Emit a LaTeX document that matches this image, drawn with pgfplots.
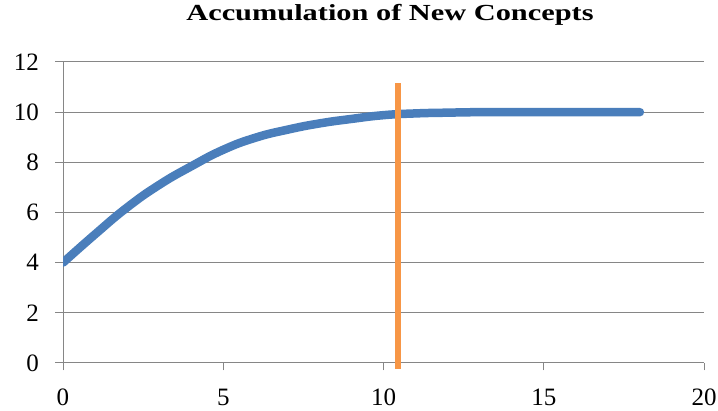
\documentclass[border=0pt]{standalone}
\usepackage{pgfplots}
\pgfplotsset{compat=1.18}
\usepackage{fontspec}
\setmainfont{Liberation Serif}
\newfontfamily\titlefont[FakeStretch=1.32]{Liberation Serif Bold}

\definecolor{gridgray}{RGB}{134,134,134}
\definecolor{curveblue}{RGB}{74,126,187}
\definecolor{markorange}{RGB}{247,150,70}

\begin{document}
\begin{tikzpicture}[x=1pt,y=1pt]
\useasboundingbox (0,0) rectangle (718,411);
\begin{axis}[
  at={(63pt,48pt)}, anchor=south west,
  scale only axis, width=641pt, height=301pt,
  xmin=0, xmax=20, ymin=0, ymax=12,
  xtick={0,5,10,15,20}, ytick={0,2,4,6,8,10,12},
  axis x line=bottom, axis y line=left,
  axis line style={gridgray, line width=1pt, -},
  ymajorgrids, grid style={gridgray, line width=1pt},
  tick align=outside, major tick length=7.5pt,
  tick style={gridgray, line width=1pt},
  /pgf/number format/assume math mode=true,
  ticklabel style={font=\fontsize{25}{25}\selectfont},
  xticklabel style={yshift=-15pt},
  yticklabel style={xshift=-13pt},
  clip mode=individual,
]
% cumulative count of new concepts
\addplot[curveblue, line width=8.5pt, line cap=round, line join=round, smooth, tension=0.8]
coordinates {
 (0,4.00) (1,5.13) (2,6.20) (3,7.10) (4,7.84) (5,8.50) (6,8.98)
 (7,9.30) (8,9.55) (9,9.73) (10,9.88) (11,9.95) (12,9.98) (13,10.0)
 (14,10.0) (15,10.0) (16,10.0) (17,10.0) (18,10.0)
};
% saturation marker
\addplot[markorange, line width=5.5pt, clip=false]
coordinates {(10.45,-0.22) (10.45,11.18)};
\end{axis}
\node[anchor=base, font=\titlefont\fontsize{23}{23}\selectfont] at (390,390.3) {Accumulation of New Concepts};
\end{tikzpicture}
\end{document}
